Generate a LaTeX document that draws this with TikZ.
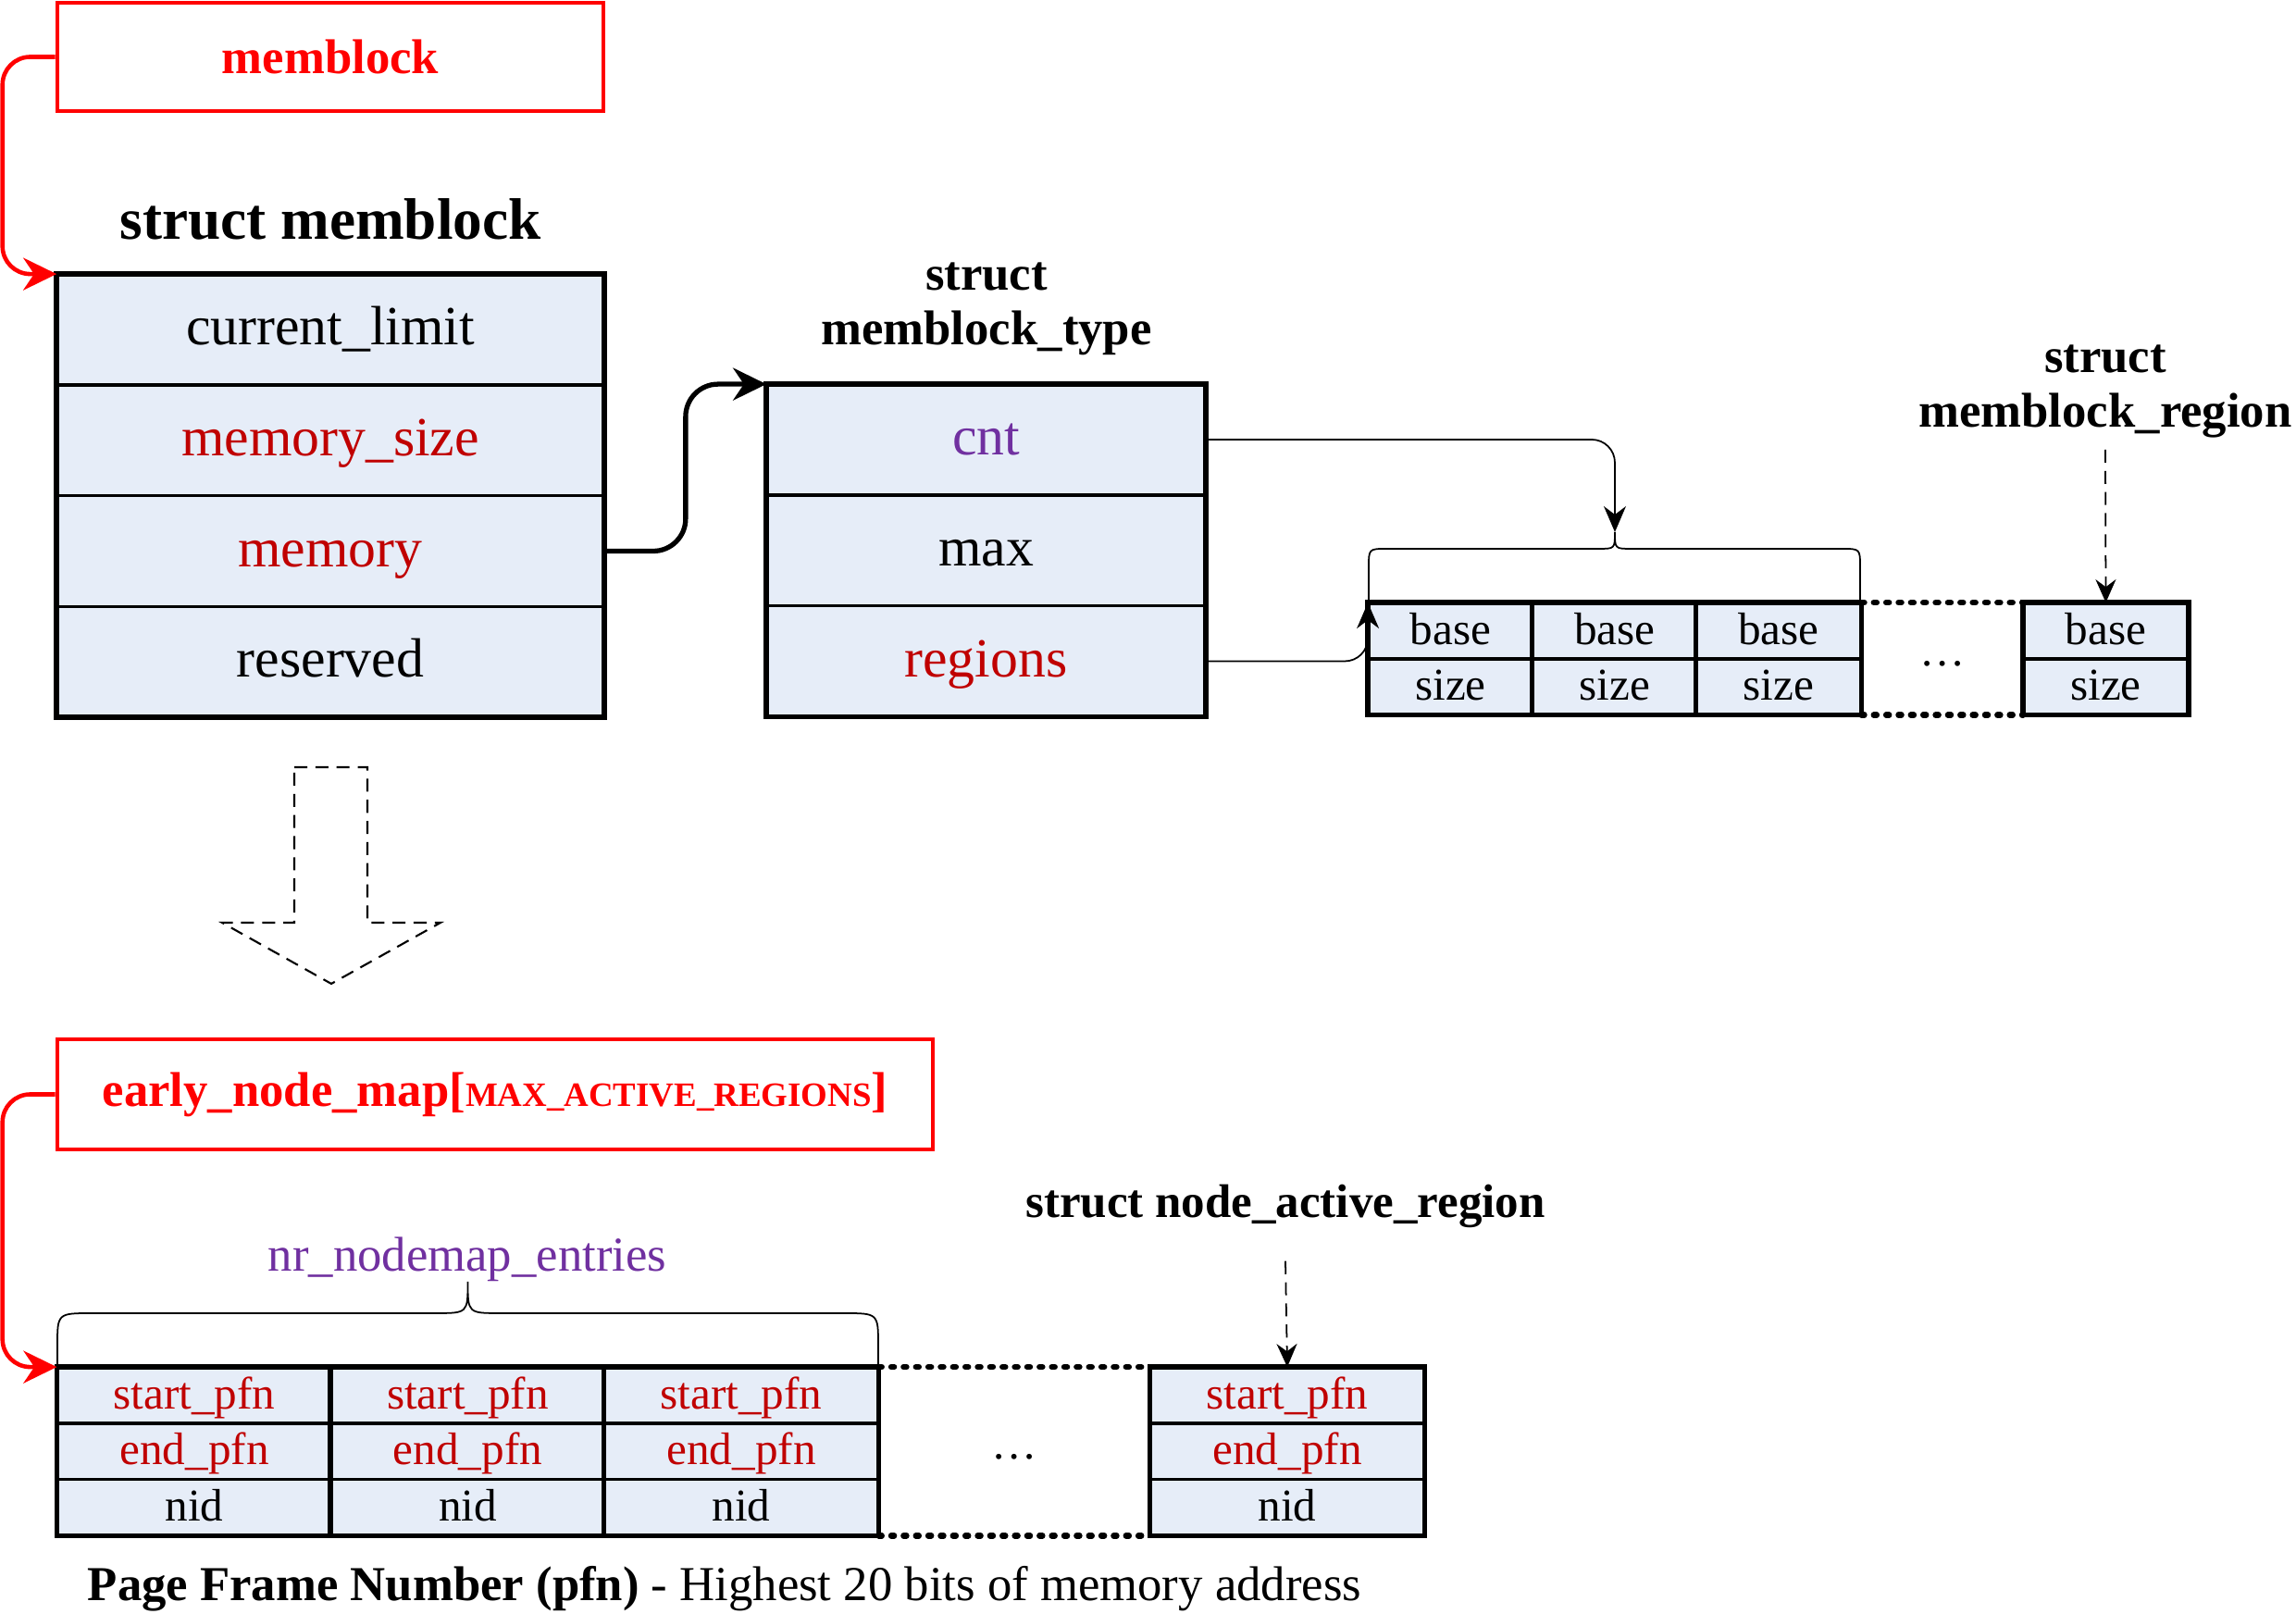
\documentclass[tikz,border=0pt]{standalone}
\usepackage{fontspec}
\setmainfont{Liberation Serif}
\usepackage{xcolor}
\usetikzlibrary{arrows.meta,positioning}

\definecolor{cellfill}{RGB}{230,237,248}
\definecolor{fieldred}{RGB}{192,0,0}
\definecolor{fieldpurple}{RGB}{112,48,160}

\begin{document}
\begin{tikzpicture}[
    field/.style={draw, line width=0.5pt, fill=cellfill, inner sep=0pt},
    bigfield/.style={field, minimum height=1.18cm, text height=1.2em, text depth=0.25em, font=\fontsize{17}{20}\selectfont},
    smallfield/.style={field, minimum height=0.59cm, text height=1.0em, text depth=0.16em, font=\fontsize{14}{17}\selectfont},
    tblframe/.style={line width=1.5pt},
    varbox/.style={draw=red, line width=1.3pt, text=red, font=\bfseries\fontsize{15}{18}\selectfont},
    boxtitle/.style={font=\bfseries\fontsize{15}{17}\selectfont, align=center},
    ptr/.style={-{Stealth[length=0.36cm,width=0.35cm]}, line width=1.5pt, rounded corners=0.35cm},
    redptr/.style={ptr, draw=red, line width=1.3pt, rounded corners=0.3cm},
    thinptr/.style={-{Stealth[length=0.28cm,width=0.24cm]}, line width=0.5pt, rounded corners=0.25cm},
    dasharrow/.style={-{Stealth[length=0.25cm,width=0.22cm]}, line width=0.5pt, dash pattern=on 4pt off 2.5pt},
    dotgap/.style={line width=1.8pt, line cap=round, dash pattern=on 0.9pt off 2.9pt}
]
    \useasboundingbox (0,0) rectangle (24.81,17.44);

    % 全局变量 memblock
    \node[varbox, minimum width=5.9cm, minimum height=1.17cm] (mbvar) at (3.57,16.825) {memblock};
    \node[boxtitle, font=\bfseries\fontsize{18}{21}\selectfont] (mbtitle) at (3.57,15.07) {struct memblock};

    % struct memblock
    \node[bigfield, minimum width=5.9cm] (mb-limit) at (3.57,13.88) {current\_limit};
    \node[bigfield, minimum width=5.9cm, text=fieldred, below=0pt of mb-limit] (mb-size) {memory\_size};
    \node[bigfield, minimum width=5.9cm, text=fieldred, below=0pt of mb-size] (mb-mem) {memory};
    \node[bigfield, minimum width=5.9cm, below=0pt of mb-mem] (mb-res) {reserved};
    \draw[tblframe] (mb-limit.north west) rectangle (mb-res.south east);

    % struct memblock_type
    \node[boxtitle] (mttitle) at (10.66,14.10) {struct\\memblock\_type};
    \node[bigfield, minimum width=4.73cm, text=fieldpurple] (mt-cnt) at (10.655,12.69) {cnt};
    \node[bigfield, minimum width=4.73cm, below=0pt of mt-cnt] (mt-max) {max};
    \node[bigfield, minimum width=4.73cm, text=fieldred, below=0pt of mt-max] (mt-regions) {regions};
    \draw[tblframe] (mt-cnt.north west) rectangle (mt-regions.south east);

    % struct memblock_region 数组
    \foreach \i/\x in {1/15.675, 2/17.45, 3/19.22, 4/22.755} {
        \node[smallfield, minimum width=1.77cm] (rg\i-base) at (\x,10.625) {base};
        \node[smallfield, minimum width=1.77cm, below=0pt of rg\i-base] (rg\i-size) {size};
        \draw[tblframe] (rg\i-base.north west) rectangle (rg\i-size.south east);
    }
    \draw[dotgap] (rg3-base.north east) -- (rg4-base.north west);
    \draw[dotgap] (rg3-size.south east) -- (rg4-size.south west);
    \node[font=\fontsize{14}{17}\selectfont] (rgdots) at (20.99,10.27) {\dots};
    \node[boxtitle] (rgtitle) at (22.75,13.21) {struct\\memblock\_region};

    % 大括号 (cnt)
    \draw[line width=0.5pt] (14.79,10.92) -- (14.79,11.31) .. controls (14.79,11.51) .. (14.99,11.51)
        -- (17.27,11.51) .. controls (17.45,11.51) .. (17.45,11.69) coordinate (cusp1)
        .. controls (17.45,11.51) .. (17.63,11.51) -- (19.90,11.51)
        .. controls (20.10,11.51) .. (20.10,11.31) -- (20.10,10.92);

    % 指针
    \draw[redptr] (mbvar.west) -- ++(-0.57,0) |- (mb-limit.north west);
    \draw[ptr] (mb-mem.east) -- ++(0.88,0) |- (mt-cnt.north west);
    \draw[thinptr] (mt-cnt.east) -| (cusp1);
    \draw[thinptr] (mt-regions.east) -| (rg1-base.north west);
    \draw[dasharrow] (rgtitle.south) -- (rg4-base.north);

    % 虚线箭头
    \draw[line width=0.6pt, dash pattern=on 4pt off 2.5pt] (3.18,9.15) -- (3.97,9.15) -- (3.97,7.47)
        -- (4.76,7.47) -- (3.58,6.81) -- (2.40,7.47) -- (3.18,7.47) -- cycle;

    % early_node_map
    \node[varbox, minimum width=9.46cm, minimum height=1.19cm] (nmvar) at (5.35,5.615)
        {early\_node\_map[{\fontsize{10.5}{12}\selectfont MAX\_ACTIVE\_REGIONS}]};
    \node[text=fieldpurple, font=\fontsize{15}{18}\selectfont] (nrlabel) at (5.05,3.83) {nr\_nodemap\_entries};

    % struct node_active_region 数组
    \foreach \i/\x in {1/2.10, 2/5.055, 3/8.01, 4/13.91} {
        \node[smallfield, minimum width=2.955cm, text=fieldred] (na\i-start) at (\x,2.365) {start\_pfn};
        \node[smallfield, minimum width=2.955cm, text=fieldred, below=0pt of na\i-start] (na\i-end) {end\_pfn};
        \node[smallfield, minimum width=2.955cm, below=0pt of na\i-end] (na\i-nid) {nid};
        \draw[tblframe] (na\i-start.north west) rectangle (na\i-nid.south east);
    }
    \draw[dotgap] (na3-start.north east) -- (na4-start.north west);
    \draw[dotgap] (na3-nid.south east) -- (na4-nid.south west);
    \node[font=\fontsize{14}{17}\selectfont] (nadots) at (10.96,1.70) {\dots};
    \node[boxtitle, font=\bfseries\fontsize{14.5}{17}\selectfont] (natitle) at (13.89,4.41) {struct node\_active\_region};

    % 大括号 (nr_nodemap_entries)
    \draw[line width=0.5pt] (0.62,2.66) -- (0.62,2.90) .. controls (0.62,3.25) .. (1.0,3.25)
        -- (4.70,3.25) .. controls (5.055,3.25) .. (5.055,3.59)
        .. controls (5.055,3.25) .. (5.41,3.25) -- (9.11,3.25)
        .. controls (9.49,3.25) .. (9.49,2.90) -- (9.49,2.66);

    \draw[redptr] (nmvar.west) -- ++(-0.57,0) |- (na1-start.north west);
    \draw[dasharrow] ([yshift=-0.24cm]natitle.south) -- (na4-start.north);

    % 说明
    \node[font=\fontsize{15}{18}\selectfont] (footer) at (7.83,0.27)
        {\textbf{Page Frame Number (pfn)} - Highest 20 bits of memory address};
\end{tikzpicture}
\end{document}
